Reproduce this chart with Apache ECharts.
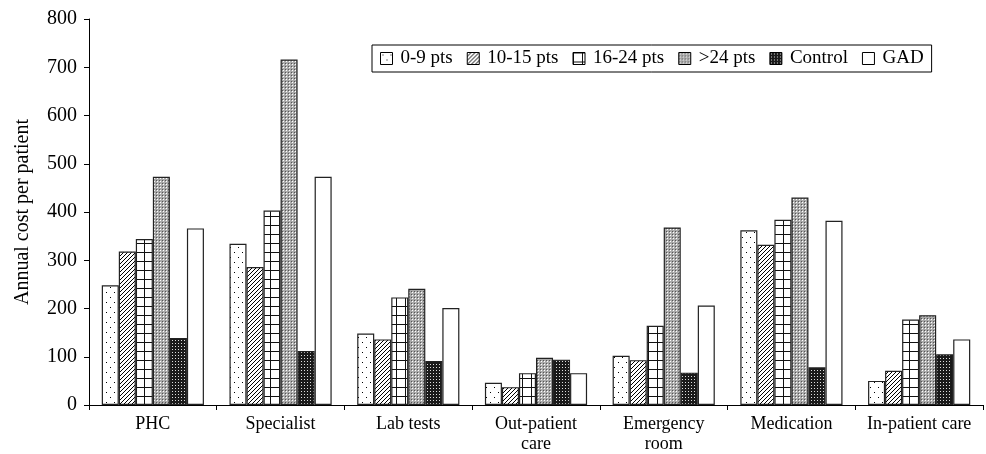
<!DOCTYPE html>
<html>
<head>
<meta charset="utf-8">
<style>html,body{margin:0;padding:0;background:#fff;}#chart{width:986px;height:454px;}</style>
<script src="https://cdn.jsdelivr.net/npm/echarts@6/dist/echarts.min.js"></script>
</head>
<body>
<div id="chart"></div>
<script>
const categories = ['PHC', 'Specialist', 'Lab tests', 'Out-patient\ncare', 'Emergency\nroom', 'Medication', 'In-patient care'];
const seriesNames = ['0-9 pts', '10-15 pts', '16-24 pts', '>24 pts', 'Control', 'GAD'];
const pts0_9 = [248, 334, 148, 46, 102, 362, 50];
const pts10_15 = [318, 286, 136, 37, 93, 332, 71];
const pts16_24 = [344, 403, 223, 66, 164, 384, 177];
const ptsOver24 = [473, 716, 241, 98, 368, 430, 186];
const control = [139, 112, 91, 94, 67, 78, 105];
const gad = [366, 473, 201, 66, 206, 382, 136];
const yTicks = [0, 100, 200, 300, 400, 500, 600, 700, 800];

function makeTile(w, h, draw) {
  const c = document.createElement('canvas');
  c.width = w; c.height = h;
  const ctx = c.getContext('2d');
  draw(ctx, w, h);
  return { image: c, repeat: 'repeat' };
}
const patDots = makeTile(8, 10, (ctx, w, h) => {
  ctx.fillStyle = '#fff'; ctx.fillRect(0, 0, w, h);
  ctx.fillStyle = '#000';
  ctx.fillRect(2, 2, 1, 1); ctx.fillRect(6, 7, 1, 1);
});
const patHatch = makeTile(4, 4, (ctx, w, h) => {
  ctx.fillStyle = '#fff'; ctx.fillRect(0, 0, w, h);
  ctx.fillStyle = '#000';
  ctx.fillRect(3, 0, 1, 1); ctx.fillRect(2, 1, 1, 1); ctx.fillRect(1, 2, 1, 1); ctx.fillRect(0, 3, 1, 1);
});
const patGrid = makeTile(9, 9, (ctx, w, h) => {
  ctx.fillStyle = '#fff'; ctx.fillRect(0, 0, w, h);
  ctx.fillStyle = '#111';
  ctx.fillRect(0, 0, w, 1); ctx.fillRect(0, 0, 1, h);
});
const patStipple = makeTile(3, 3, (ctx, w, h) => {
  ctx.fillStyle = '#aaa'; ctx.fillRect(0, 0, w, h);
  ctx.fillStyle = '#fff'; ctx.fillRect(1, 1, 1, 1);
  ctx.fillStyle = '#555'; ctx.fillRect(0, 0, 1, 1);
});
const patDark = makeTile(3, 3, (ctx, w, h) => {
  ctx.fillStyle = '#1a1a1a'; ctx.fillRect(0, 0, w, h);
  ctx.fillStyle = '#ddd'; ctx.fillRect(1, 1, 1, 1);
});
const fills = [patDots, patHatch, patGrid, patStipple, patDark, '#fff'];
const values = [pts0_9, pts10_15, pts16_24, ptsOver24, control, gad];

const FONT = 'Liberation Serif';
const chart = echarts.init(document.getElementById('chart'), null, { renderer: 'canvas' });
chart.setOption({
  animation: false,
  backgroundColor: '#fff',
  textStyle: { fontFamily: FONT, color: '#000' },
  legend: {
    data: seriesNames,
    left: 372, top: 45,
    orient: 'horizontal',
    itemWidth: 12, itemHeight: 12, itemGap: 14,
    padding: [4, 8],
    borderColor: '#000', borderWidth: 1, borderRadius: 0,
    icon: 'rect',
    textStyle: { fontFamily: FONT, fontSize: 19, color: '#000', padding: [0, 0, 0, 3] },
    itemStyle: { borderColor: '#000', borderWidth: 1 }
  },
  grid: { left: 89, right: 3, top: 19, bottom: 48, containLabel: false },
  xAxis: {
    type: 'category',
    data: categories,
    axisLine: { lineStyle: { color: '#000', width: 1 } },
    axisTick: { show: true, inside: false, length: 5, alignWithLabel: false, lineStyle: { color: '#000' } },
    axisLabel: { fontFamily: FONT, fontSize: 18, color: '#000', margin: 9, lineHeight: 20, interval: 0 },
    splitLine: { show: false }
  },
  yAxis: {
    type: 'value',
    min: 0, max: 800, interval: 100,
    name: 'Annual cost per patient',
    nameLocation: 'middle',
    nameGap: 56,
    nameRotate: 90,
    nameTextStyle: { fontFamily: FONT, fontSize: 20, color: '#000' },
    axisLine: { show: true, lineStyle: { color: '#000', width: 1 } },
    axisTick: { show: true, inside: false, length: 5, lineStyle: { color: '#000' } },
    axisLabel: { fontFamily: FONT, fontSize: 20, color: '#000', margin: 12,
      formatter: v => yTicks.includes(v) ? String(v) : '' },
    splitLine: { show: false }
  },
  series: seriesNames.map((n, i) => ({
    name: n,
    type: 'bar',
    data: values[i],
    barGap: '0%',
    barCategoryGap: '20%',
    itemStyle: { color: fills[i], borderColor: '#222', borderWidth: 1.2 }
  }))
});
</script>
</body>
</html>
